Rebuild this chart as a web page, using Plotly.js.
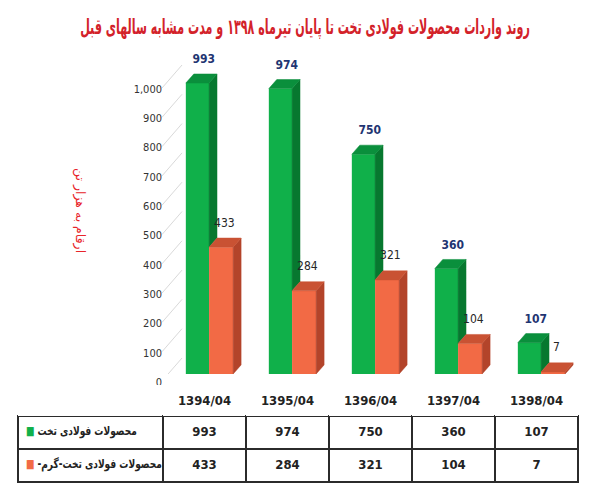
<!DOCTYPE html>
<html>
<head>
<meta charset="utf-8">
<script src="https://cdn.plot.ly/plotly-3.0.1.min.js"></script>
<style>
  html, body { margin: 0; padding: 0; background: #fff; }
  #chart { width: 607px; height: 486px; }
</style>
</head>
<body>
<div id="chart"></div>
<script>
// data (thousand tonnes)
var periods = ['1394/04', '1395/04', '1396/04', '1397/04', '1398/04'];
var flatSteel = [993, 974, 750, 360, 107];
var hotRolled = [433, 284, 321, 104, 7];
var seriesNames = ['محصولات فولادی تخت', 'محصولات فولادی تخت-گرم-'];
var yTicks = [0, 100, 200, 300, 400, 500, 600, 700, 800, 900, 1000];

var titleText = 'روند واردات محصولات فولادی تخت تا پایان تیرماه ۱۳۹۸ و مدت مشابه سالهای قبل';
var unitText = 'ارقام به هزار تن';

var W = 607, H = 486;
function px(x) { return x / W; }
function py(y) { return 1 - y / H; }

var green = '#10b04a', greenSide = '#07782f', greenTop = '#0a8f3c';
var orange = '#f26a45', orangeSide = '#b3442a', orangeTop = '#c95233';
var narrow = '"Liberation Sans Narrow", "DejaVu Sans Condensed", Arial, sans-serif';
var arabic = '"DejaVu Sans", sans-serif';

var pos = periods.map(function (p, i) { return i; });

// bar geometry in x units, 3d depth
var gOff = -0.225, gW = 0.28, oOff = 0.055, oW = 0.29;
var dx = 0.096, dy = 31;

function faces(build) {
  var xs = [], ys = [];
  pos.forEach(function (x, i) {
    var pts = build(x, i);
    pts.forEach(function (p) { xs.push(p[0]); ys.push(p[1]); });
    xs.push(pts[0][0]); ys.push(pts[0][1]);
    xs.push(null); ys.push(null);
  });
  return { x: xs, y: ys };
}

function polyTrace(f, color) {
  return {
    x: f.x, y: f.y, xaxis: 'x2', yaxis: 'y2', type: 'scatter', mode: 'lines',
    fill: 'toself', fillcolor: color, line: { color: color, width: 0.5 },
    hoverinfo: 'skip', showlegend: false
  };
}

var greenSideF = faces(function (x, i) {
  var x0 = x + oOff, g = flatSteel[i], o = hotRolled[i];
  return [[x0, o], [x0, g], [x0 + dx, g + dy], [x0 + dx, o + dy]];
});
var greenTopF = faces(function (x, i) {
  var g = flatSteel[i];
  return [[x + gOff, g], [x + oOff, g], [x + oOff + dx, g + dy], [x + gOff + dx, g + dy]];
});
var orangeSideF = faces(function (x, i) {
  var x1 = x + oOff + oW, o = hotRolled[i];
  return [[x1, 0], [x1, o], [x1 + dx, o + dy], [x1 + dx, dy]];
});
var orangeTopF = faces(function (x, i) {
  var o = hotRolled[i];
  return [[x + oOff, o], [x + oOff + oW, o], [x + oOff + oW + dx, o + dy], [x + oOff + dx, o + dy]];
});

var traces = [
  {
    type: 'bar', x: pos, y: flatSteel, xaxis: 'x2', yaxis: 'y2',
    offset: gOff, width: gW, marker: { color: green }, name: seriesNames[0], hoverinfo: 'y'
  },
  {
    type: 'bar', x: pos, y: hotRolled, xaxis: 'x2', yaxis: 'y2',
    offset: oOff, width: oW, marker: { color: orange }, name: seriesNames[1], hoverinfo: 'y'
  },
  polyTrace(greenSideF, greenSide),
  polyTrace(greenTopF, greenTop),
  polyTrace(orangeSideF, orangeSide),
  polyTrace(orangeTopF, orangeTop),
  {
    type: 'scatter', mode: 'text', xaxis: 'x2', yaxis: 'y2', cliponaxis: false,
    x: pos.map(function (x) { return x - 0.01; }),
    y: flatSteel.map(function (v) { return v + 78; }),
    text: flatSteel.map(String),
    textfont: { family: narrow, size: 12, color: '#1f3572', weight: 'bold' },
    hoverinfo: 'skip'
  },
  {
    type: 'scatter', mode: 'text', xaxis: 'x2', yaxis: 'y2', cliponaxis: false,
    x: pos.map(function (x) { return x + 0.24; }),
    y: hotRolled.map(function (v) { return v + 80; }),
    text: hotRolled.map(String),
    textfont: { family: narrow, size: 12, color: '#262626' },
    hoverinfo: 'skip'
  }
];

// data table under the chart (trailing <br> keeps plotly from word-wrapping the span)
var rowLabels = [
  '<span style="color:' + green + '">■</span> <b>' + seriesNames[0] + '</b><br>',
  '<span style="color:' + orange + '">■</span> <b>\u200F' + seriesNames[1] + '\u200F</b><br>'
];
var tableCols = [rowLabels];
periods.forEach(function (p, i) {
  tableCols.push(['<b>' + flatSteel[i] + '</b>', '<b>' + hotRolled[i] + '</b>']);
});

traces.push({
  type: 'table',
  domain: { x: [px(18), px(578)], y: [py(486), py(385)] },
  columnwidth: [145, 83, 83, 83, 83, 83],
  header: {
    values: [''].concat(periods.map(function (p) { return '<b>' + p + '</b>'; })),
    height: 30,
    align: 'center',
    fill: { color: 'white' },
    line: { color: 'white', width: 0 },
    font: { family: narrow, size: 13, color: '#222' }
  },
  cells: {
    values: tableCols,
    height: 33,
    align: ['left', 'center', 'center', 'center', 'center', 'center'],
    fill: { color: 'white' },
    line: { color: '#2b2b2b', width: 1.5 },
    font: { family: [arabic, narrow, narrow, narrow, narrow, narrow], size: [12, 13, 13, 13, 13, 13], color: '#222' }
  }
});

// slanted lines from the tick labels to the back wall
var shapes = yTicks.map(function (v) {
  return {
    type: 'line', layer: 'below', xref: 'paper', yref: 'y2',
    x0: px(162), y0: v - 24, x1: px(182), y1: v + 54.6,
    line: { color: '#d9d9d9', width: 1 }
  };
});

var layout = {
  width: W, height: H,
  margin: { l: 0, r: 0, t: 0, b: 0 },
  paper_bgcolor: '#fff',
  plot_bgcolor: 'rgba(0,0,0,0)',
  showlegend: false,
  barmode: 'overlay',
  title: {
    text: '<b>' + titleText + '</b>',
    x: px(305), xanchor: 'center', y: py(27), yanchor: 'middle',
    font: { family: arabic, size: 21, color: '#d3222a' }
  },
  // back wall with gridlines
  xaxis: {
    domain: [px(182), px(593)], range: [0, 1], anchor: 'y',
    showgrid: false, zeroline: false, showline: false, showticklabels: false, ticks: ''
  },
  yaxis: {
    domain: [py(358), py(358 - 322.3)], range: [0, 1100], anchor: 'x',
    tickvals: yTicks, showgrid: true, gridcolor: '#d9d9d9', gridwidth: 1,
    zeroline: false, showline: false, showticklabels: false, ticks: ''
  },
  // front plane with the bars
  xaxis2: {
    domain: [px(163), px(578)], range: [-0.5, 4.5],
    anchor: 'free', position: py(384),
    tickvals: [-0.5, 0.5, 1.5, 2.5, 3.5], ticktext: ['', '', '', '', ''],
    ticks: 'outside', ticklen: 31, tickcolor: '#555', tickwidth: 1,
    showgrid: false, zeroline: false, showline: false
  },
  yaxis2: {
    domain: [py(374), py(374 - 322.3)], range: [0, 1100], anchor: 'x2',
    tickvals: yTicks, tickformat: ',d', ticklabelshift: 8,
    tickfont: { family: narrow, size: 11, color: '#333' },
    showgrid: false, zeroline: false, showline: false, ticks: ''
  },
  annotations: [{
    text: unitText, xref: 'paper', yref: 'paper',
    x: px(70), y: py(210), showarrow: false, textangle: 90,
    font: { family: arabic, size: 12.5, color: '#e8242a' }
  }],
  shapes: shapes
};

// scale a text element horizontally around x = ax (local coords)
function squeeze(el, s, ax) {
  var prev = el.getAttribute('transform') || '';
  el.setAttribute('transform', prev + ' translate(' + ax + ',0) scale(' + s + ',1) translate(' + (-ax) + ',0)');
}

Plotly.newPlot('chart', traces, layout, { displayModeBar: false, staticPlot: true }).then(function (gd) {
  // the original uses very narrow faces for the headline and the row labels
  var t = gd.querySelector('.gtitle');
  if (t) {
    var bb = t.getBBox();
    var s = 450 / bb.width;
    var cx = bb.x + bb.width / 2;
    t.setAttribute('transform', 'translate(' + (305 - cx * s) + ',0) scale(' + s + ',1)');
  }
  var labels = [];
  gd.querySelectorAll('text').forEach(function (el) {
    if (el.textContent.indexOf(seriesNames[0]) >= 0 && !el.closest('.gtitle')) labels.push(el);
  });
  var widest = 0;
  labels.forEach(function (el) { widest = Math.max(widest, el.getBBox().width); });
  if (widest > 0) {
    var k = Math.min(1, 136 / widest);
    labels.forEach(function (el) { squeeze(el, k, el.getBBox().x); });
  }
});
</script>
</body>
</html>
